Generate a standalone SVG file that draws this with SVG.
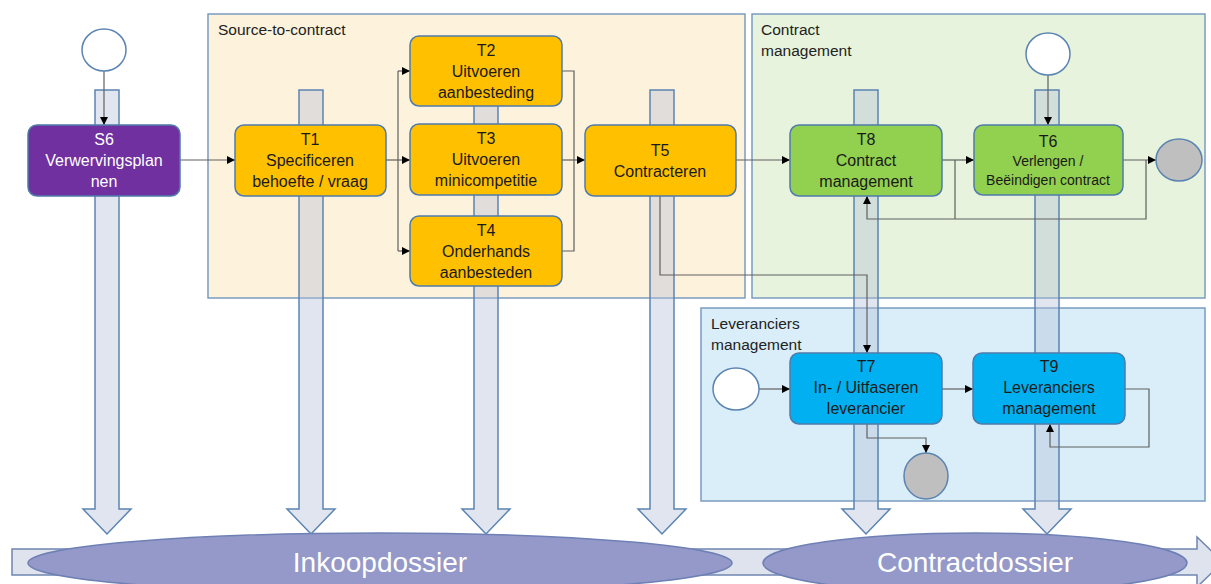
<svg xmlns="http://www.w3.org/2000/svg" width="1211" height="584" viewBox="0 0 1211 584">
<defs>
<marker id="ah" viewBox="0 0 10 10" refX="10" refY="5" markerWidth="8" markerHeight="8" markerUnits="userSpaceOnUse" orient="auto">
<path d="M0,0 L10,5 L0,10 z" fill="#000"/>
</marker>
<style>
.panel{stroke:#7a9cc0;stroke-width:1.5}
.plabel{font-family:"Liberation Sans",Arial,sans-serif;font-size:15.5px;fill:#222}
.varrow{fill:rgb(180,190,215);fill-opacity:0.4;stroke:#5b84b1;stroke-width:1.5}
.box{stroke:#4f7bab;stroke-width:1.5}
.t{font-family:"Liberation Sans",Arial,sans-serif;font-size:16px;text-anchor:middle;fill:#1a1a1a}
.tw{fill:#fff}
.ts{font-size:14px}
.conn{fill:none;stroke:#606060;stroke-width:1.2}
.arr{marker-end:url(#ah)}
.start{fill:#fff;stroke:#5b84b1;stroke-width:1.5}
.end{fill:#bfbfbf;stroke:#5b84b1;stroke-width:1.5}
.doss{fill:#9499c9;stroke:#6f80b5;stroke-width:1.5}
.dt{font-family:"Liberation Sans",Arial,sans-serif;font-size:28px;fill:#fff;text-anchor:middle}
</style>
</defs>
<rect width="1211" height="584" fill="#fff"/>

<g id="panel-source-to-contract">
<rect class="panel" x="208" y="14" width="537" height="284" fill="#fdf2dc"/>
<text class="plabel" x="218" y="35">Source-to-contract</text>
</g>
<g id="panel-contract-management">
<rect class="panel" x="752" y="14" width="453" height="284" fill="#e7f3dc"/>
<text class="plabel" x="761" y="35">Contract</text>
<text class="plabel" x="761" y="56">management</text>
</g>
<g id="panel-leveranciers-management">
<rect class="panel" x="701" y="308" width="504" height="193" fill="#d9eef9"/>
<text class="plabel" x="711" y="329">Leveranciers</text>
<text class="plabel" x="711" y="350">management</text>
</g>

<g id="vertical-arrows">
<polygon class="varrow" points="95,90 119,90 119,509 131,509 107,534 83,509 95,509"/>
<polygon class="varrow" points="299,90 323,90 323,509 335,509 311,534 287,509 299,509"/>
<polygon class="varrow" points="474,90 498,90 498,509 510,509 486,534 462,509 474,509"/>
<polygon class="varrow" points="650,90 674,90 674,509 686,509 662,534 638,509 650,509"/>
<polygon class="varrow" points="854,90 878,90 878,509 890,509 866,534 842,509 854,509"/>
<polygon class="varrow" points="1035,90 1059,90 1059,509 1071,509 1047,534 1023,509 1035,509"/>
</g>

<g id="dossier-band">
<polygon points="12,549 1197,549 1197,537 1223,562 1197,587 1197,575 12,575" fill="#dfe3ee" stroke="#6f86b0" stroke-width="1.5"/>
</g>
<g id="inkoopdossier">
<ellipse class="doss" cx="380" cy="563" rx="352" ry="30"/>
<text class="dt" x="380" y="572">Inkoopdossier</text>
</g>
<g id="contractdossier">
<ellipse class="doss" cx="975" cy="563" rx="212" ry="30"/>
<text class="dt" x="975" y="572">Contractdossier</text>
</g>

<g id="connectors">
<path class="conn arr" d="M104,71 L104,125"/>
<path class="conn arr" d="M180,160 L235,160"/>
<path class="conn" d="M386,160 L398,160"/>
<path class="conn" d="M398,71 L398,251"/>
<path class="conn arr" d="M398,71 L410,71"/>
<path class="conn arr" d="M398,160 L410,160"/>
<path class="conn arr" d="M398,251 L410,251"/>
<path class="conn" d="M562,71 L574,71 L574,251 L562,251"/>
<path class="conn arr" d="M562,160 L585,160"/>
<path class="conn arr" d="M736,160 L790,160"/>
<path class="conn arr" d="M660,196 L660,275 L867,275 L867,353"/>
<path class="conn arr" d="M942,160 L974,160"/>
<path class="conn" d="M955,160 L955,219"/>
<path class="conn arr" d="M1146,160 L1146,219 L867,219 L867,196"/>
<path class="conn arr" d="M1123,160 L1156,160"/>
<path class="conn arr" d="M1048,75 L1048,125"/>
<path class="conn arr" d="M759,389 L790,389"/>
<path class="conn arr" d="M942,389 L973,389"/>
<path class="conn arr" d="M1125,389 L1149,389 L1149,447 L1050,447 L1050,424"/>
<path class="conn arr" d="M867,424 L867,438 L926,438 L926,453"/>
</g>

<g id="start-s6"><ellipse class="start" cx="104" cy="50" rx="22" ry="21"/></g>
<g id="start-t6"><ellipse class="start" cx="1048" cy="54" rx="22" ry="21"/></g>
<g id="start-t7"><ellipse class="start" cx="736" cy="389" rx="23" ry="21"/></g>
<g id="end-t6"><ellipse class="end" cx="1179" cy="160" rx="23" ry="21"/></g>
<g id="end-t7"><ellipse class="end" cx="926" cy="476" rx="22" ry="23"/></g>

<g id="S6">
<rect class="box" x="28" y="125" width="152" height="71" rx="9" fill="#7030a0"/>
<text class="t tw" x="104" y="145">S6</text>
<text class="t tw" x="104" y="166">Verwervingsplan</text>
<text class="t tw" x="104" y="187">nen</text>
</g>
<g id="T1">
<rect class="box" x="235" y="125" width="151" height="71" rx="9" fill="#ffc000"/>
<text class="t" x="310" y="145">T1</text>
<text class="t" x="310" y="166">Specificeren</text>
<text class="t" x="310" y="187">behoefte / vraag</text>
</g>
<g id="T2">
<rect class="box" x="410" y="36" width="152" height="70" rx="9" fill="#ffc000"/>
<text class="t" x="486" y="56">T2</text>
<text class="t" x="486" y="77">Uitvoeren</text>
<text class="t" x="486" y="98">aanbesteding</text>
</g>
<g id="T3">
<rect class="box" x="410" y="124" width="152" height="71" rx="9" fill="#ffc000"/>
<text class="t" x="486" y="144">T3</text>
<text class="t" x="486" y="165">Uitvoeren</text>
<text class="t" x="486" y="186">minicompetitie</text>
</g>
<g id="T4">
<rect class="box" x="410" y="216" width="152" height="70" rx="9" fill="#ffc000"/>
<text class="t" x="486" y="236">T4</text>
<text class="t" x="486" y="257">Onderhands</text>
<text class="t" x="486" y="278">aanbesteden</text>
</g>
<g id="T5">
<rect class="box" x="585" y="125" width="151" height="71" rx="9" fill="#ffc000"/>
<text class="t" x="660" y="156">T5</text>
<text class="t" x="660" y="177">Contracteren</text>
</g>
<g id="T8">
<rect class="box" x="790" y="125" width="152" height="71" rx="9" fill="#92d050"/>
<text class="t" x="866" y="145">T8</text>
<text class="t" x="866" y="166">Contract</text>
<text class="t" x="866" y="187">management</text>
</g>
<g id="T6">
<rect class="box" x="974" y="125" width="149" height="70" rx="9" fill="#92d050"/>
<text class="t" x="1048" y="147">T6</text>
<text class="t ts" x="1048" y="166">Verlengen /</text>
<text class="t ts" x="1048" y="185">Beëindigen contract</text>
</g>
<g id="T7">
<rect class="box" x="790" y="353" width="152" height="71" rx="9" fill="#00b0f0"/>
<text class="t" x="866" y="372">T7</text>
<text class="t" x="866" y="393">In- / Uitfaseren</text>
<text class="t" x="866" y="414">leverancier</text>
</g>
<g id="T9">
<rect class="box" x="973" y="353" width="152" height="71" rx="9" fill="#00b0f0"/>
<text class="t" x="1049" y="372">T9</text>
<text class="t" x="1049" y="393">Leveranciers</text>
<text class="t" x="1049" y="414">management</text>
</g>
</svg>
